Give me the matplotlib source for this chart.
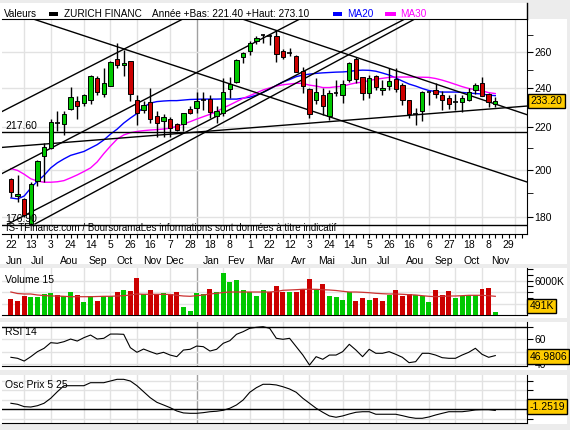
import numpy as np
import matplotlib
matplotlib.use("Agg")
import matplotlib.pyplot as plt
import matplotlib.transforms as mtransforms
from matplotlib.patches import Rectangle
from matplotlib.lines import Line2D
from matplotlib.ticker import NullFormatter

plt.rcParams['font.family'] = ['Liberation Sans', 'DejaVu Sans']

W, H = 570, 430
GREEN = '#00c800'
RED = '#cc0000'
GRID = '#e2e2e2'
YEAR_GRID = '#a0a0a0'
BOX = '#ffcc00'
FS = 7.5

# weekly candles, 22 Jun 2012 -> 15 Nov 2013
opens = [196.1, 189.0, 187.4, 177.6, 195.4, 206.6, 210.1, 222.1, 221.5, 229.0,
         233.3, 232.3, 233.6, 245.4, 236.8, 241.4, 255.9, 252.7, 255.0, 233.6,
         228.7, 233.0, 225.7, 223.3, 224.0, 221.6, 221.5, 229.2, 229.6, 233.8,
         234.1, 225.4, 227.0, 239.5, 243.3, 257.5, 261.0, 266.4, 269.8, 270.0,
         269.8, 260.9, 259.9, 258.1, 249.7, 239.5, 233.6, 236.4, 225.4, 237.4,
         236.4, 244.3, 256.4, 246.0, 237.3, 246.6, 239.1, 241.4, 245.1, 241.8,
         233.8, 226.4, 228.2, 237.8, 239.1, 236.2, 234.7, 233.1, 233.0, 233.6,
         239.1, 243.0, 236.8, 231.8]
highs = [196.6, 198.0, 188.0, 195.0, 204.6, 212.3, 224.0, 228.2, 228.2, 240.5,
         236.0, 236.8, 247.2, 246.6, 251.0, 255.0, 265.4, 261.4, 255.3, 236.4,
         233.3, 240.0, 228.3, 226.7, 225.0, 222.0, 227.3, 230.8, 238.2, 238.2,
         236.4, 230.6, 245.4, 246.0, 256.0, 260.0, 266.4, 269.4, 271.0, 270.8,
         273.1, 261.8, 262.4, 258.3, 251.4, 240.0, 245.4, 240.0, 239.1, 244.5,
         244.5, 254.6, 257.4, 246.3, 247.2, 247.0, 244.5, 251.0, 251.0, 242.7,
         234.0, 229.5, 238.6, 238.2, 243.0, 238.6, 236.4, 236.9, 236.4, 240.3,
         243.0, 246.0, 237.3, 235.2]
lows = [188.5, 186.5, 180.3, 176.9, 193.0, 195.0, 209.5, 218.0, 216.3, 228.5,
        224.0, 230.6, 231.5, 236.4, 235.2, 241.0, 251.0, 246.6, 233.3, 221.0,
        227.0, 222.0, 215.5, 215.5, 215.5, 218.0, 218.0, 226.8, 227.0, 228.7,
        224.5, 222.0, 225.4, 235.0, 243.0, 254.0, 258.5, 265.0, 265.6, 264.3,
        254.6, 256.0, 258.1, 248.6, 237.7, 224.7, 232.0, 226.2, 223.6, 235.8,
        232.5, 243.5, 242.7, 233.8, 234.7, 239.0, 236.4, 239.0, 238.2, 231.2,
        224.5, 221.4, 223.3, 231.2, 234.7, 228.7, 229.0, 228.7, 227.9, 233.3,
        236.8, 235.8, 230.0, 230.0]
closes = [190.4, 189.6, 181.0, 193.9, 204.1, 210.8, 222.7, 222.3, 226.6, 235.2,
          230.8, 236.4, 246.6, 238.2, 242.7, 254.3, 252.7, 253.9, 237.0, 227.2,
          231.2, 224.0, 222.1, 225.0, 219.6, 218.9, 227.0, 227.0, 233.3, 234.0,
          227.5, 228.2, 238.2, 242.2, 255.6, 259.8, 265.4, 268.4, 270.0, 269.8,
          258.9, 257.2, 259.7, 249.1, 241.2, 226.4, 237.9, 230.8, 237.3, 237.6,
          242.2, 254.1, 244.9, 237.3, 245.8, 240.5, 240.3, 244.0, 239.6, 233.6,
          226.6, 226.8, 237.9, 238.0, 236.9, 233.8, 231.7, 232.9, 235.0, 238.0,
          241.8, 236.1, 232.6, 233.2]

ma20 = [188.0, 187.6, 188.8, 192.2, 195.2, 197.7, 201.0, 203.3, 205.1, 206.7,
        207.6, 208.5, 210.1, 211.7, 213.9, 216.7, 219.1, 222.1, 224.6, 226.9,
        230.2, 232.2, 233.0, 233.3, 233.5, 233.5, 233.8, 234.1, 234.2, 234.3,
        234.3, 234.3, 234.4, 234.3, 234.3, 234.8, 235.3, 236.4, 237.8, 239.6,
        241.5, 243.4, 244.7, 246.3, 247.2, 247.7, 248.1, 248.4, 248.6, 248.8,
        248.9, 249.2, 249.7, 249.9, 249.8, 249.3, 248.3, 247.2, 245.6, 243.9,
        242.3, 241.2, 239.9, 238.8, 238.3, 238.0, 238.0, 238.0, 237.8, 237.5,
        237.2, 237.0, 236.4, 236.1]
ma30 = [200.7, 199.9, 198.2, 196.2, 195.2, 194.7, 194.7, 194.9, 195.4, 196.6,
        197.9, 199.4, 201.0, 203.7, 207.5, 211.0, 214.3, 216.3, 217.4, 218.0,
        218.4, 218.7, 218.9, 219.2, 219.6, 220.5, 221.6, 222.8, 224.1, 225.3,
        226.5, 227.8, 229.7, 231.3, 233.0, 234.7, 236.1, 237.6, 239.1, 240.2,
        241.2, 241.9, 242.3, 242.7, 242.6, 241.7, 241.2, 240.4, 240.4, 240.8,
        241.1, 242.1, 242.9, 243.3, 244.2, 244.9, 245.4, 245.9, 246.1, 246.1,
        246.1, 246.0, 246.0, 245.9, 245.3, 244.4, 243.3, 242.1, 240.9, 239.9,
        239.3, 238.6, 237.7, 237.2]

# volume in thousands
volumes = [2807, 2515, 3333, 3158, 3158, 3743, 3918, 3509, 3333, 4035,
           3509, 2339, 3333, 2515, 3333, 3333, 4035, 4386, 4211, 6491,
           3626, 4386, 3626, 3860, 3684, 4035, 1404, 760, 3918, 3626,
           4561, 4035, 7427, 5789, 6140, 4386, 4035, 3333, 4386, 4035,
           5088, 4035, 4035, 4035, 4561, 6316, 4561, 5439, 3333, 3158,
           2632, 4035, 2456, 2982, 2632, 2982, 2456, 3509, 4386, 3333,
           3684, 3509, 3333, 2281, 4386, 3509, 4211, 2982, 3333, 3509,
           3509, 4561, 4737, 491]
vol_ma = [4035, 3770, 3684, 3684, 3509, 3420, 3333, 3333, 3280, 3210,
          3210, 3210, 3210, 3245, 3280, 3280, 3333, 3386, 3509, 3684,
          3632, 3632, 3632, 3632, 3596, 3456, 3333, 3280, 3386, 3509,
          3684, 3807, 3947, 4035, 4035, 4035, 4035, 4035, 4035, 4035,
          4123, 4333, 4386, 4439, 4509, 4509, 4509, 4439, 4386, 4298,
          4158, 4035, 4035, 3982, 3912, 3807, 3737, 3684, 3684, 3632,
          3561, 3509, 3386, 3280, 3210, 3280, 3333, 3333, 3386, 3456,
          3456, 3456, 3386, 3280]

rsi = [45.6, 44.8, 42.6, 46.1, 50.1, 52.8, 57.3, 56.8, 58.1, 60.2,
       58.6, 61.3, 63.4, 60.2, 60.8, 64.2, 64.2, 64.0, 53.3, 49.6,
       52.2, 50.1, 48.2, 49.6, 47.4, 46.1, 51.4, 52.0, 54.6, 54.1,
       50.6, 52.0, 56.8, 58.9, 64.0, 66.1, 68.8, 69.6, 70.1, 68.8,
       60.8, 60.0, 60.8, 54.1, 47.4, 39.4, 46.1, 44.0, 47.4, 47.4,
       50.1, 56.0, 51.4, 46.1, 52.0, 48.8, 48.8, 50.1, 48.0, 45.6,
       41.3, 42.1, 48.8, 48.8, 47.4, 45.3, 44.8, 44.8, 47.4, 49.6,
       52.8, 48.0, 45.6, 46.9806]
osc = [6.4, 5.3, 2.8, 2.4, 3.8, 6.4, 11.7, 18.7, 25.1, 25.1,
       25.1, 25.1, 28.3, 28.3, 28.3, 30.1, 31.9, 31.9, 30.1, 25.1,
       18.7, 12.3, 7.4, 4.6, 1.7, -1.8, -3.9, -4.3, -4.3, -3.6,
       -2.6, -2.1, -1.1, 1.1, 4.6, 9.9, 18.1, 23.0, 26.6, 26.6,
       25.9, 24.0, 21.6, 18.1, 11.7, 6.4, 1.1, -3.2, -7.1, -8.5,
       -7.1, -5.0, -3.2, -2.6, -2.6, -5.3, -5.3, -5.3, -5.3, -6.8,
       -8.5, -9.6, -9.6, -8.2, -6.1, -4.3, -2.6, -2.6, -2.6, -1.8,
       -0.7, -0.4, -0.4, -1.2519]

# trend lines: (week, price) -> (week, price)
trend_w0 = [-1.34, -1.34, -0.44, 3.63, 3.33, 34.83, -1.34]
trend_p0 = [227.9, 198.5, 177.4, 177.4, 280.1, 280.1, 210.4]
trend_w1 = [25.94, 43.57, 59.40, 60.90, 77.78, 77.78, 77.78]
trend_p1 = [280.1, 280.1, 280.1, 280.1, 194.8, 226.3, 230.7]
levels = [217.60, 176.90]

price_ticks = [180, 200, 220, 240, 260]
price_minor = [190, 210, 230, 250, 270]

day_weeks = list(range(0, 76, 3))
day_labels = ['22', '13', '3', '24', '14', '5', '26', '16', '7', '28', '18', '8', '1',
              '22', '12', '3', '24', '14', '5', '26', '16', '6', '27', '18', '8', '29']
month_labels = ['Jun', 'Jul', 'Aou', 'Sep', 'Oct', 'Nov', 'Dec', 'Jan', 'Fev', 'Mar',
                'Avr', 'Mai', 'Jun', 'Jul', 'Aou', 'Sep', 'Oct', 'Nov']
month_pos = [0.5, 4.0, 8.75, 13.1, 17.2, 21.3, 24.6, 30.2, 33.9, 38.3,
             43.4, 47.6, 52.5, 56.2, 60.9, 65.3, 69.5, 73.7]
month_starts = [2, 6, 11, 15, 19, 24, 28, 32, 36, 41, 45, 50, 54, 58, 63, 67, 71, 76]
year_start = 28

XMIN, XMAX = -1.34, 77.78


def px_rect(x0, y0, x1, y1):
    return [x0 / W, 1 - y1 / H, (x1 - x0) / W, (y1 - y0) / H]


def fy(y):
    return 1 - y / H


def add_box(x0, y0, x1, y1, color):
    fig.add_artist(Rectangle((x0 / W, fy(y1)), (x1 - x0) / W, (y1 - y0) / H,
                             transform=fig.transFigure, fc=color, ec='none', zorder=-5))


def setup_panel(a):
    a.set_xlim(XMIN, XMAX)
    a.set_facecolor('none')
    a.spines['left'].set_visible(False)
    a.spines['top'].set_visible(False)
    a.yaxis.tick_right()
    a.set_xticks([])
    a.tick_params(axis='y', which='both', direction='out', length=4, pad=1.5,
                  labelsize=FS)
    for m in month_starts:
        a.axvline(m, color=YEAR_GRID if m == year_start else GRID, lw=1, zorder=0.5)


fig = plt.figure(figsize=(W / 100, H / 100), dpi=100)
fig.patch.set_facecolor('#ececec')
for box in [(0, 3, 527, 19), (0, 19, 567, 264), (0, 268, 567, 318),
            (0, 322, 567, 370), (0, 375, 567, 424)]:
    add_box(*box, 'white')

wk = np.arange(len(closes))
o = np.array(opens)
c = np.array(closes)

# ---- main price panel
ax = fig.add_axes(px_rect(2, 19, 527, 234))
setup_panel(ax)
ax.spines['top'].set_visible(True)
ax.set_yscale('log')
ax.set_ylim(173.5, 280.05)
ax.set_yticks(price_ticks, labels=[str(t) for t in price_ticks])
ax.set_yticks(price_minor, minor=True)
ax.yaxis.set_minor_formatter(NullFormatter())
ax.set_xticks(wk.tolist() + [74, 75, 76, 77])
ax.set_xticklabels([])
ax.tick_params(axis='x', direction='out', length=3)
for t in price_ticks:
    ax.axhline(t, color=GRID, lw=1, zorder=0.5)

ax.plot(wk, ma20, color='#0000ff', lw=1, zorder=3)
ax.plot(wk, ma30, color='#ff00ff', lw=1, zorder=3)
for w0, p0, w1, p1 in zip(trend_w0, trend_p0, trend_w1, trend_p1):
    ax.plot([w0, w1], [p0, p1], color='black', lw=1, zorder=3.5)
for lv in levels:
    ax.axhline(lv, color='black', lw=1, zorder=3.5)
    ax.annotate(f'{lv:.2f}', xy=(0.006, lv), xycoords=('axes fraction', 'data'),
                xytext=(0, 1), textcoords='offset points', va='bottom', fontsize=FS,
                zorder=6)

ax.vlines(wk, lows, highs, color='black', lw=1, zorder=4)
body = np.abs(c - o) >= 0.5
cols = np.where(c >= o, GREEN, RED)
ax.bar(wk[body], np.abs(c - o)[body], bottom=np.minimum(o, c)[body], width=0.66,
       color=cols[body], edgecolor='black', linewidth=0.7, zorder=5)
ax.hlines(c[~body], wk[~body] - 0.33, wk[~body] + 0.33, color='black', lw=1.2, zorder=5)

ax.text(0.008, 0.028, 'IS-TFinance.com / BoursoramaLes informations sont données à titre indicatif',
        transform=ax.transAxes, va='center', fontsize=7, zorder=6)

# date labels
trans = mtransforms.blended_transform_factory(ax.transData, fig.transFigure)
for w_, lab in zip(day_weeks, day_labels):
    fig.text(w_, fy(245), lab, transform=trans, ha='center', va='center', fontsize=FS)
for w_, lab in zip(month_pos, month_labels):
    fig.text(w_, fy(261), lab, transform=trans, ha='center', va='center', fontsize=FS)

# header
hy = fy(14)
fig.text(4 / W, hy, 'Valeurs', fontsize=7.2, va='center')
add_box(49, 12.5, 58, 15.5, 'black')
fig.text(63.5 / W, hy, 'ZURICH FINANC', fontsize=7.2, va='center')
fig.text(152 / W, hy, f'Année +Bas: {min(lows[28:]):.2f} +Haut: {max(highs[28:]):.2f}',
         fontsize=7.2, va='center')
add_box(333, 12, 342, 16, '#0000ff')
fig.text(347 / W, hy, 'MA20', fontsize=7.2, va='center', color='#0000ff')
add_box(385, 12, 396, 16, '#ff00ff')
fig.text(400 / W, hy, 'MA30', fontsize=7.2, va='center', color='#ff00ff')
fig.add_artist(Line2D([527 / W, 527 / W], [fy(3), fy(19)], transform=fig.transFigure,
                      color='black', lw=1))

# ---- volume panel
axv = fig.add_axes(px_rect(2, 268, 527, 315))
setup_panel(axv)
axv.set_ylim(0, 8245)
vol_up = np.r_[False, c[1:] >= c[:-1]]
axv.bar(wk, volumes, width=0.75, color=np.where(vol_up, GREEN, RED), zorder=3)
axv.plot(wk, vol_ma, color='#cc3333', lw=0.9, zorder=4)
axv.set_yticks(range(1000, 9000, 1000),
               labels=['', '', '', '', '', '6000K', '', ''])
for t in [2000, 4000, 6000]:
    axv.axhline(t, color=GRID, lw=1, zorder=0.5)
axv.text(0.006, 0.74, 'Volume 15', transform=axv.transAxes, fontsize=FS, va='center')

# ---- RSI panel
axr = fig.add_axes(px_rect(2, 322, 527, 366))
setup_panel(axr)
axr.set_ylim(38.64, 73.84)
axr.set_yticks([40, 50, 60, 70], labels=['40', '', '60', ''])
for t in [40, 50, 60]:
    axr.axhline(t, color=GRID, lw=1, zorder=0.5)
axr.axhline(70, color='black', lw=1, zorder=2)
axr.plot(wk, rsi, color='black', lw=0.8, zorder=3)
axr.text(0.006, 0.77, 'RSI 14', transform=axr.transAxes, fontsize=FS, va='center')

# ---- price oscillator panel
axo = fig.add_axes(px_rect(2, 375, 527, 422.7))
setup_panel(axo)
axo.set_ylim(-14.3, 36.5)
axo.set_yticks([-10, 0, 10, 20, 30], labels=[''] * 5)
for t in [-10, 10, 20, 30]:
    axo.axhline(t, color=GRID, lw=1, zorder=0.5)
axo.axhline(0, color='black', lw=1, zorder=2)
axo.plot(wk, osc, color='black', lw=0.8, zorder=3)
axo.text(0.006, 0.78, 'Osc Prix 5 25', transform=axo.transAxes, fontsize=FS, va='center')

# last value boxes
box_style = dict(boxstyle='square,pad=0.22', fc=BOX, ec='black', lw=1)
fig.text(530.5 / W, fy(101), f'{closes[-1]:.2f}', fontsize=FS, va='center', bbox=box_style)
fig.text(529.5 / W, fy(306), f'{volumes[-1]}K', fontsize=FS, va='center', bbox=box_style)
fig.text(529.5 / W, fy(356.5), f'{rsi[-1]:.4f}', fontsize=FS, va='center', bbox=box_style)
fig.text(529.5 / W, fy(406.5), f'{osc[-1]:.4f}', fontsize=FS, va='center', bbox=box_style)

fig.savefig('out.png', dpi=100, facecolor=fig.get_facecolor())
